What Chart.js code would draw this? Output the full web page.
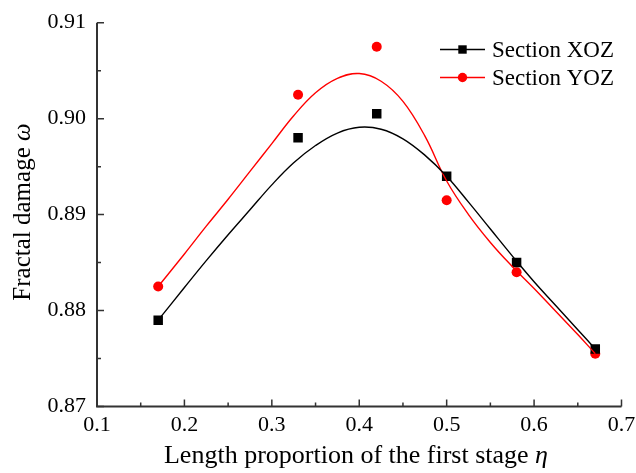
<!DOCTYPE html>
<html>
<head>
<meta charset="utf-8">
<script src="https://cdn.jsdelivr.net/npm/chart.js@4.4.1/dist/chart.umd.min.js"></script>
<style>
    html, body { margin: 0; padding: 0; background: #fff; }
    #wrap { width: 636px; height: 473px; position: relative; }
</style>
</head>
<body>
<div id="wrap"><canvas id="chart"></canvas></div>
<script>
// ── measured points ──
const ETA = [0.17, 0.33, 0.42, 0.50, 0.58, 0.67];
const XOZ = [0.8790, 0.8980, 0.9005, 0.8940, 0.8850, 0.8760];
const YOZ = [0.8825, 0.9025, 0.9075, 0.8915, 0.8840, 0.8755];

// ── fitted curves ──
const FIT_ETA = [0.17, 0.20, 0.225, 0.25, 0.275, 0.30, 0.325, 0.35, 0.375, 0.40, 0.425,
                 0.45, 0.475, 0.50, 0.525, 0.55, 0.575, 0.60, 0.625, 0.65, 0.67];
const FIT_XOZ = [0.8790, 0.8824, 0.8852, 0.8879, 0.8905, 0.8931, 0.8954, 0.8972, 0.8985, 0.8991, 0.8989,
                 0.8979, 0.8962, 0.8940, 0.8913, 0.8885, 0.8857, 0.8830, 0.8805, 0.8780, 0.8760];
const FIT_YOZ = [0.8825, 0.8859, 0.8888, 0.8916, 0.8945, 0.8974, 0.9003, 0.9027, 0.9042, 0.9047, 0.9039,
                 0.9018, 0.8982, 0.8935, 0.8900, 0.8871, 0.8846, 0.8823, 0.8799, 0.8775, 0.8755];

const X_TICKS = [0.1, 0.2, 0.3, 0.4, 0.5, 0.6, 0.7];
const Y_TICKS = [0.87, 0.88, 0.89, 0.90, 0.91];

const SERIES = [
    { label: 'Section XOZ', color: '#000000', style: 'rect', radius: 6.7 },
    { label: 'Section YOZ', color: '#ff0000', style: 'circle', radius: 5 },
];

const FONT = "'Liberation Serif', 'Times New Roman', serif";
const AXIS = '#333333';

const pairs = (xs, ys) => xs.map((x, i) => ({ x, y: ys[i] }));

// inward ticks, axis lines, titles and legend
const decor = {
    id: 'decor',
    afterDraw(chart) {
        const { ctx, chartArea: a, scales: { x, y } } = chart;
        ctx.save();
        ctx.strokeStyle = AXIS;
        ctx.lineWidth = 2;
        ctx.beginPath();
        ctx.moveTo(a.left, a.top);
        ctx.lineTo(a.left, a.bottom);
        ctx.lineTo(a.right, a.bottom);
        ctx.stroke();

        ctx.lineWidth = 1.5;
        ctx.beginPath();
        for (let i = 0; i < X_TICKS.length; i++) {
            const px = x.getPixelForValue(X_TICKS[i]);
            ctx.moveTo(px, a.bottom); ctx.lineTo(px, a.bottom - 7);
            if (i < X_TICKS.length - 1) {
                const pm = x.getPixelForValue(X_TICKS[i] + 0.05);
                ctx.moveTo(pm, a.bottom); ctx.lineTo(pm, a.bottom - 4);
            }
        }
        for (let i = 0; i < Y_TICKS.length; i++) {
            const py = y.getPixelForValue(Y_TICKS[i]);
            ctx.moveTo(a.left, py); ctx.lineTo(a.left + 7, py);
            if (i < Y_TICKS.length - 1) {
                const pm = y.getPixelForValue(Y_TICKS[i] + 0.005);
                ctx.moveTo(a.left, pm); ctx.lineTo(a.left + 4, pm);
            }
        }
        ctx.stroke();

        // axis titles (plain + italic symbol)
        ctx.fillStyle = '#000';
        ctx.textBaseline = 'middle';
        const drawMixed = (a1, b1, cx, cy, size) => {
            const plain = size + 'px ' + FONT, ital = 'italic ' + size + 'px ' + FONT;
            ctx.font = plain; const w1 = ctx.measureText(a1).width;
            ctx.font = ital; const w2 = ctx.measureText(b1).width;
            const sx = cx - (w1 + w2) / 2;
            ctx.textAlign = 'left';
            ctx.font = plain; ctx.fillText(a1, sx, cy);
            ctx.font = ital; ctx.fillText(b1, sx + w1, cy);
        };
        drawMixed('Length proportion of the first stage ', 'η', 356, 456, 26);
        ctx.save();
        ctx.translate(23, 212);
        ctx.rotate(-Math.PI / 2);
        drawMixed('Fractal damage ', 'ω', 0, 0, 25);
        ctx.restore();

        // legend
        ctx.font = '23px ' + FONT;
        ctx.textAlign = 'left';
        SERIES.forEach((s, i) => {
            const ly = 49.5 + i * 28;
            ctx.strokeStyle = s.color;
            ctx.lineWidth = 1.5;
            ctx.beginPath();
            ctx.moveTo(440, ly); ctx.lineTo(485, ly);
            ctx.stroke();
            ctx.fillStyle = s.color;
            if (s.style === 'rect') {
                ctx.fillRect(462.5 - 4.2, ly - 4.2, 8.4, 8.4);
            } else {
                ctx.beginPath(); ctx.arc(462.5, ly, 4.7, 0, Math.PI * 2); ctx.fill();
            }
            ctx.fillStyle = '#000';
            ctx.fillText(s.label, 492, ly + 1);
        });
        ctx.restore();
    }
};

new Chart(document.getElementById('chart'), {
    type: 'scatter',
    data: {
        datasets: [
            {
                label: 'Section XOZ fit', type: 'line', data: pairs(FIT_ETA, FIT_XOZ),
                borderColor: SERIES[0].color, borderWidth: 1.4, pointRadius: 0,
                tension: 0.4, fill: false,
            },
            {
                label: 'Section YOZ fit', type: 'line', data: pairs(FIT_ETA, FIT_YOZ),
                borderColor: SERIES[1].color, borderWidth: 1.4, pointRadius: 0,
                tension: 0.4, fill: false,
            },
            {
                label: SERIES[0].label, data: pairs(ETA, XOZ),
                pointStyle: 'rect', pointRadius: SERIES[0].radius,
                backgroundColor: SERIES[0].color, borderColor: SERIES[0].color, borderWidth: 0,
            },
            {
                label: SERIES[1].label, data: pairs(ETA, YOZ),
                pointStyle: 'circle', pointRadius: SERIES[1].radius,
                backgroundColor: SERIES[1].color, borderColor: SERIES[1].color, borderWidth: 0,
            },
        ],
    },
    options: {
        responsive: true,
        maintainAspectRatio: false,
        animation: false,
        devicePixelRatio: 1,
        layout: { padding: { left: 0, right: 14.5, top: 22.7, bottom: 0 } },
        plugins: { legend: { display: false }, tooltip: { enabled: false } },
        scales: {
            x: {
                type: 'linear', min: 0.1, max: 0.7,
                afterFit: s => { s.height = 66.5; s.paddingLeft = 0; s.paddingRight = 0; },
                afterBuildTicks: s => { s.ticks = X_TICKS.map(v => ({ value: v })); },
                ticks: {
                    font: { family: FONT, size: 22 }, color: '#000', padding: 6,
                    callback: v => v.toFixed(1),
                },
                grid: { display: false, drawTicks: false },
                border: { display: false },
            },
            y: {
                type: 'linear', min: 0.87, max: 0.91,
                afterFit: s => { s.width = 97; s.paddingTop = 0; s.paddingBottom = 0; },
                afterBuildTicks: s => { s.ticks = Y_TICKS.map(v => ({ value: v })); },
                ticks: {
                    font: { family: FONT, size: 22 }, color: '#000', padding: 11,
                    callback: v => v.toFixed(2),
                },
                grid: { display: false, drawTicks: false },
                border: { display: false },
            },
        },
    },
    plugins: [decor],
});
</script>
</body>
</html>
